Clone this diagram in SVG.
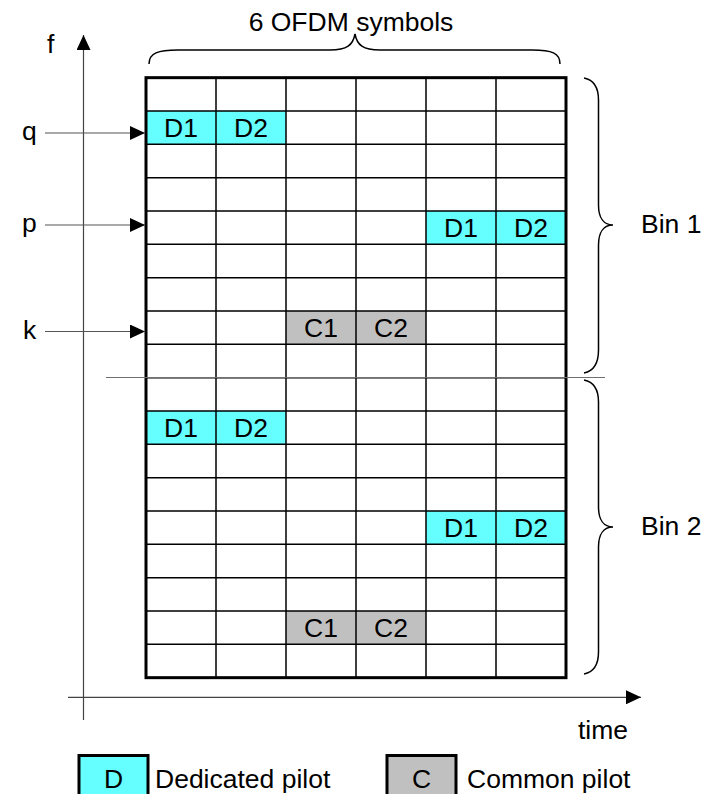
<svg xmlns="http://www.w3.org/2000/svg" width="708" height="794" viewBox="0 0 708 794">
  <defs>
    <style>
      text { font-family: "Liberation Sans", Arial, sans-serif; font-size: 26.5px; fill: #000; }
      .c { text-anchor: middle; }
      .ded { fill: #66FFFF; }
      .com { fill: #C0C0C0; }
      .grid { fill: none; stroke: #000; stroke-width: 1.5; }
      .border { fill: none; stroke: #000; stroke-width: 3; }
      .axis { stroke: #444; stroke-width: 1.2; fill: none; }
      .ptr { stroke: #555; stroke-width: 1.2; fill: none; }
      .brace { fill: none; stroke: #000; stroke-width: 1.5; }
      .legbox { stroke: #000; stroke-width: 3; }
    </style>
    <marker id="ah" markerWidth="15" markerHeight="14" refX="15" refY="7" orient="auto" markerUnits="userSpaceOnUse">
      <path d="M0,0 L15,7 L0,14 Z" fill="#000"/>
    </marker>
  </defs>
  <rect width="708" height="794" fill="#fff"/>

  <!-- pilot cells -->
  <g id="cell-q-d1"><rect class="ded" x="146" y="111" width="70" height="33.33"/><text class="c" x="181" y="137">D1</text></g>
  <g id="cell-q-d2"><rect class="ded" x="216" y="111" width="70" height="33.33"/><text class="c" x="251" y="137">D2</text></g>
  <g id="cell-p-d1"><rect class="ded" x="426" y="211" width="70" height="33.33"/><text class="c" x="461" y="237">D1</text></g>
  <g id="cell-p-d2"><rect class="ded" x="496" y="211" width="70" height="33.33"/><text class="c" x="531" y="237">D2</text></g>
  <g id="cell-k-c1"><rect class="com" x="286" y="311" width="70" height="33.33"/><text class="c" x="321" y="337">C1</text></g>
  <g id="cell-k-c2"><rect class="com" x="356" y="311" width="70" height="33.33"/><text class="c" x="391" y="337">C2</text></g>
  <g id="cell-b2-d1a"><rect class="ded" x="146" y="411" width="70" height="33.33"/><text class="c" x="181" y="437">D1</text></g>
  <g id="cell-b2-d2a"><rect class="ded" x="216" y="411" width="70" height="33.33"/><text class="c" x="251" y="437">D2</text></g>
  <g id="cell-b2-d1b"><rect class="ded" x="426" y="511" width="70" height="33.33"/><text class="c" x="461" y="537">D1</text></g>
  <g id="cell-b2-d2b"><rect class="ded" x="496" y="511" width="70" height="33.33"/><text class="c" x="531" y="537">D2</text></g>
  <g id="cell-b2-c1"><rect class="com" x="286" y="611" width="70" height="33.33"/><text class="c" x="321" y="637">C1</text></g>
  <g id="cell-b2-c2"><rect class="com" x="356" y="611" width="70" height="33.33"/><text class="c" x="391" y="637">C2</text></g>

  <!-- grid -->
  <g id="grid">
    <path class="grid" d="M216,77.67V677.67 M286,77.67V677.67 M356,77.67V677.67 M426,77.67V677.67 M496,77.67V677.67
      M146,111H566 M146,144.33H566 M146,177.67H566 M146,211H566 M146,244.33H566 M146,277.67H566 M146,311H566 M146,344.33H566
      M146,377.67H566 M146,411H566 M146,444.33H566 M146,477.67H566 M146,511H566 M146,544.33H566 M146,577.67H566 M146,611H566 M146,644.33H566"/>
    <rect class="border" x="146" y="77.67" width="420" height="600"/>
  </g>

  <!-- connectors / axes -->
  <g id="connectors">
    <line class="axis" x1="83.5" y1="720" x2="83.5" y2="35" marker-end="url(#ah)"/>
    <line class="axis" x1="68" y1="697.3" x2="641" y2="697.3" marker-end="url(#ah)"/>
    <line class="ptr" x1="45" y1="133" x2="145" y2="133" marker-end="url(#ah)"/>
    <line class="ptr" x1="45" y1="225" x2="145" y2="225" marker-end="url(#ah)"/>
    <line class="ptr" x1="45" y1="331.5" x2="145" y2="331.5" marker-end="url(#ah)"/>
    <line x1="106" y1="377.5" x2="605" y2="377.5" stroke="#707070" stroke-width="1.2"/>
  </g>

  <!-- braces -->
  <g id="brace-top">
    <path class="brace" d="M149,64 C149,53 158,50 178,50 L330,50 C347,50 353,45 355,34 C357,45 363,50 380,50 L532,50 C552,50 560,53 560,64"/>
    <text class="c" x="351" y="31">6 OFDM symbols</text>
  </g>
  <g id="brace-bin1">
    <path class="brace" d="M584,78 C594,80 598.5,88 598.5,100 L598.5,205 C598.5,218 604,225 613,225 C604,225 598.5,232 598.5,245 L598.5,350 C598.5,362 594,371 584,373"/>
    <text x="641" y="233">Bin 1</text>
  </g>
  <g id="brace-bin2">
    <path class="brace" d="M584,380 C594,382 598.5,390 598.5,402 L598.5,507 C598.5,520 604,527 613,527 C604,527 598.5,534 598.5,547 L598.5,652 C598.5,664 594,672 584,674"/>
    <text x="641" y="535">Bin 2</text>
  </g>

  <!-- axis labels -->
  <g id="labels">
    <text x="47" y="53">f</text>
    <text x="22" y="140">q</text>
    <text x="22" y="232">p</text>
    <text x="23" y="339">k</text>
    <text x="578" y="739">time</text>
  </g>

  <!-- legend -->
  <g id="legend-dedicated">
    <rect class="ded legbox" x="79" y="755.5" width="69" height="50"/>
    <text class="c" x="113.5" y="788">D</text>
    <text x="155" y="788">Dedicated pilot</text>
  </g>
  <g id="legend-common">
    <rect class="com legbox" x="387" y="755.5" width="69" height="50"/>
    <text class="c" x="421.5" y="788">C</text>
    <text x="467" y="788">Common pilot</text>
  </g>
</svg>
